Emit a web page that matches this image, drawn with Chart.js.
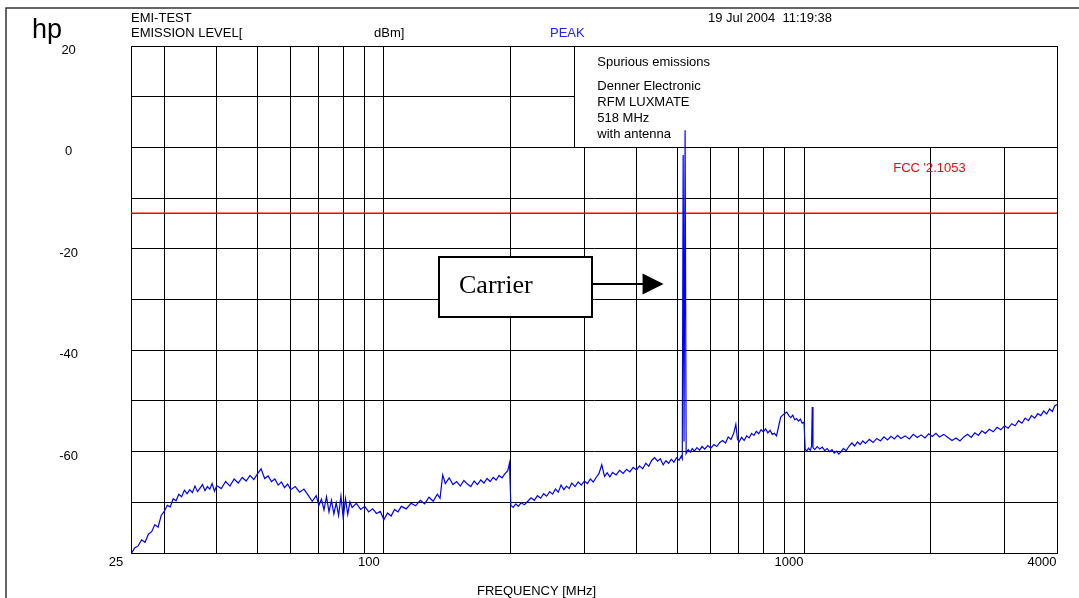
<!DOCTYPE html>
<html>
<head>
<meta charset="utf-8">
<title>EMI-TEST spurious emissions</title>
<script src="https://cdn.jsdelivr.net/npm/chart.js@4/dist/chart.umd.min.js"></script>
<style>
  html, body { margin: 0; padding: 0; background: #fff; }
  canvas { display: block; }
</style>
</head>
<body>
<canvas id="emiChart" width="1079" height="598"></canvas>
<script>
// peak sweep, 25 MHz .. 4 GHz
var freqMHz = [
  25, 25.5, 26, 26.5, 27, 27.5, 28, 28.5, 29, 29.5, 30, 30.5, 31, 31.5, 32, 32.5,
  33, 33.5, 34, 34.5, 35, 35.5, 36, 36.5, 37, 37.5, 38, 38.5, 39, 39.5, 40,
  41, 42, 43, 44, 45, 46, 47, 48, 49, 50, 51, 52, 53, 54, 55, 56, 57, 58, 59, 60,
  61.5, 63, 64.5, 66, 67.5, 69, 70, 71, 72, 73, 74, 75, 76, 77, 78, 79, 80, 81, 82, 83, 84,
  86, 88, 90, 92, 94, 96, 98, 100, 102, 104, 106, 108, 110, 113, 116, 119, 122, 125, 128, 131, 134, 136,
  138, 140, 143, 146, 149, 152, 155, 158, 161, 164, 167, 170, 173, 176, 179, 182, 185, 188, 191, 194, 197, 199,
  200.5, 203, 206, 209, 212, 216, 220, 224, 228, 232, 236, 240, 244, 248, 252, 256, 260, 264,
  268, 272, 276, 280, 285, 290, 295, 300, 305, 310, 315, 320, 325, 330, 335, 340, 345,
  350, 357, 364, 371, 378, 385, 392, 399, 406, 413, 420, 427, 434, 441, 448, 455, 462, 469,
  476, 483, 490, 497, 504, 510, 513,
  515.5, 518, 521,
  524, 530, 536, 542, 548, 556, 564, 572, 580, 590, 600, 610, 620, 630, 640, 650, 660, 670, 680, 688, 694, 700,
  710, 720, 730, 740, 750, 760, 770, 780, 790, 800, 810, 820, 830, 840, 850, 860, 870, 880, 890, 900,
  910, 920, 930, 940, 950, 960, 970, 980, 990, 1000,
  1006, 1015, 1025, 1035, 1042, 1046, 1050, 1060, 1075, 1090, 1105, 1120, 1135, 1150, 1165, 1180,
  1195, 1210, 1225, 1240, 1260, 1280, 1300, 1320, 1340, 1360, 1380, 1400,
  1430, 1460, 1490, 1520, 1550, 1580, 1610, 1640, 1670, 1700, 1740, 1780, 1820, 1860, 1900, 1940,
  1980, 2020, 2060, 2100, 2150, 2200,
  2250, 2300, 2350, 2400, 2450, 2500, 2550, 2600, 2650, 2700, 2760, 2820, 2880, 2940, 3000, 3060,
  3120, 3180, 3240, 3300, 3360, 3420, 3480, 3540, 3600, 3660, 3720, 3780, 3840, 3900, 3950, 4000
];

var levelDbm = [
  -80.2, -79.0, -78.6, -77.4, -77.9, -76.3, -75.8, -74.4, -74.9, -72.6, -71.8, -70.6, -70.9, -69.3, -69.7, -68.4,
  -68.9, -67.6, -68.3, -67.5, -68.1, -66.8, -67.9, -67.2, -66.5, -67.7, -66.9, -67.4, -66.3, -67.8, -66.7,
  -67.3, -65.9, -66.8, -65.4, -66.2, -65.1, -65.8, -64.7, -65.5, -64.4, -63.4, -65.3, -64.8, -65.9, -65.4, -66.6, -66.0, -67.1, -66.4, -67.5,
  -66.9, -68.0, -67.4, -68.6, -69.8, -68.7, -70.6, -69.4, -71.5, -68.9, -71.9, -69.6, -72.3, -70.1, -72.6, -68.8, -73.1, -69.3, -72.4, -69.9, -71.0,
  -70.2, -71.4, -70.8, -71.9, -71.3, -72.2, -71.8, -73.4, -72.1, -72.7, -71.4, -71.9, -70.8, -71.3, -70.2, -70.7, -69.6, -70.3, -69.0, -69.8, -68.4, -69.2,
  -64.6, -66.3, -65.2, -66.5, -65.9, -66.8, -65.7, -66.4, -66.9, -65.8, -66.5, -65.6, -66.2, -65.3, -65.9, -65.1, -65.6, -64.7, -65.2, -64.4, -63.8, -62.3,
  -70.6, -71.0, -70.3, -70.8, -70.1, -70.5, -69.8, -69.1, -69.6, -68.7, -69.2, -68.3, -68.8, -67.9, -68.4, -67.4, -68.0, -66.6,
  -67.5, -66.8, -67.3, -66.2, -66.9, -66.0, -66.6, -65.8, -66.3, -65.4, -66.0, -65.1, -64.3, -62.6, -64.9, -64.2, -65.0,
  -64.1, -64.6, -63.7, -64.3, -63.5, -64.0, -63.1, -63.6, -62.8, -63.4, -62.3, -62.9, -61.7, -61.2, -61.9, -61.4, -62.6, -61.8,
  -62.3, -61.5, -62.1, -61.2, -61.7, -60.9, -61.4,
  -1.5, -58.0, 3.4,
  -60.4, -59.6, -60.1, -59.4, -59.9, -59.2, -59.7, -59.0, -59.5, -58.8, -59.3, -58.6, -59.0, -58.2, -57.8, -58.3, -57.1, -57.6, -56.4, -54.6, -57.5, -58.1,
  -57.2, -57.8, -56.9, -57.3, -56.4, -56.8, -56.0, -56.5, -55.7, -56.1, -55.5, -56.3, -55.8, -56.6, -56.4, -56.9, -55.0, -53.2, -52.8, -52.5,
  -52.2, -52.9, -53.3, -52.8, -53.7, -53.5, -54.0, -53.6, -54.4, -54.2,
  -59.5, -59.9, -59.3, -59.8, -58.9, -51.2, -59.2, -59.6, -59.0, -59.5, -59.1, -59.8, -59.4, -60.0, -59.6, -60.3,
  -59.9, -60.5, -60.0, -59.4, -59.8, -58.9, -58.3, -58.9, -58.1, -58.6, -57.9, -58.4,
  -57.6, -58.2, -57.4, -57.9, -57.1, -57.7, -57.0, -57.5, -56.8, -57.4, -56.9, -57.5, -56.6, -57.2, -56.7, -57.3,
  -56.5, -57.0, -56.4, -57.1, -56.6, -57.2,
  -57.8, -57.3, -57.9, -57.1, -56.6, -57.2, -56.3, -56.8, -55.9, -56.4, -55.6, -56.1, -55.2, -55.7, -54.9, -55.4,
  -54.5, -54.9, -53.9, -54.4, -53.4, -53.9, -52.9, -53.4, -52.5, -52.9, -52.0, -52.6, -51.6, -52.1, -51.0, -50.7
];

// FCC limit line
var limitFreq = [25, 4000];
var limitDbm = [-13, -13];

// grid positions and the ones that get a label
var gridFreqs = [25, 30, 40, 50, 60, 70, 80, 90, 100, 200, 300, 400, 500, 600, 700, 800, 900, 1000, 2000, 3000, 4000];
var freqLabels = [25, 100, 1000, 4000];
var levelLabels = [20, 0, -20, -40, -60];

var infoLines = ['Spurious emissions', 'Denner Electronic', 'RFM LUXMATE', '518 MHz', 'with antenna'];
var infoLineOffsets = [20, 44, 60, 76, 92];

var sansFont = '"Liberation Sans", Arial, sans-serif';

// annotation anchors in axis units (MHz / dBm)
var infoBox = { from: 284, to: 4000, top: 20, bottom: 0, textAt: 322 };
var carrierNote = { from: 135.5, to: 312, top: -21.6, bottom: -33.5, arrowTo: 463, arrowAt: -27.0, text: 'Carrier' };
var fccNote = { at: 1630, level: -4.8, text: "FCC '2.1053" };

var emiDecor = {
  id: 'emiDecor',
  beforeDatasetsDraw: function(chart) {
    var c = chart.ctx, xs = chart.scales.x, ys = chart.scales.y;
    var l = Math.round(xs.getPixelForValue(infoBox.from)), r = Math.round(xs.getPixelForValue(infoBox.to));
    var t = Math.round(ys.getPixelForValue(infoBox.top)), b = Math.round(ys.getPixelForValue(infoBox.bottom));
    c.save();
    c.fillStyle = '#fff';
    c.fillRect(l, t, r - l, b - t);
    c.strokeStyle = '#000';
    c.lineWidth = 1;
    c.strokeRect(l + 0.5, t + 0.5, r - l, b - t);
    c.fillStyle = '#000';
    c.font = '13px ' + sansFont;
    c.textBaseline = 'alphabetic';
    var tx = xs.getPixelForValue(infoBox.textAt);
    infoLines.forEach(function(line, i) {
      c.fillText(line, tx, t + infoLineOffsets[i]);
    });

    // limit label
    c.fillStyle = '#ff0000';
    c.fillText(fccNote.text, xs.getPixelForValue(fccNote.at), ys.getPixelForValue(fccNote.level));
    c.restore();
  },
  afterDatasetsDraw: function(chart) {
    var c = chart.ctx, xs = chart.scales.x, ys = chart.scales.y;
    var l = Math.round(xs.getPixelForValue(carrierNote.from)), r = Math.round(xs.getPixelForValue(carrierNote.to));
    var t = Math.round(ys.getPixelForValue(carrierNote.top)), b = Math.round(ys.getPixelForValue(carrierNote.bottom));
    var ay = Math.round(ys.getPixelForValue(carrierNote.arrowAt));
    var tip = xs.getPixelForValue(carrierNote.arrowTo);
    c.save();
    c.fillStyle = '#fff';
    c.fillRect(l, t, r - l, b - t);
    c.strokeStyle = '#000';
    c.lineWidth = 2;
    c.strokeRect(l, t, r - l, b - t);
    c.fillStyle = '#000';
    c.font = '26px "Liberation Serif", "Times New Roman", serif';
    c.textBaseline = 'alphabetic';
    c.fillText(carrierNote.text, l + 20, ay + 9);

    // arrow to the carrier
    c.beginPath();
    c.moveTo(r, ay);
    c.lineTo(tip - 18, ay);
    c.stroke();
    c.beginPath();
    c.moveTo(tip, ay);
    c.lineTo(tip - 21, ay - 10.5);
    c.lineTo(tip - 21, ay + 10.5);
    c.closePath();
    c.fill();
    c.restore();
  },
  afterDraw: function(chart) {
    var c = chart.ctx;
    c.save();
    // page frame
    c.strokeStyle = '#333';
    c.lineWidth = 1.5;
    c.beginPath();
    c.moveTo(6, 598);
    c.lineTo(6, 8);
    c.lineTo(1079, 8);
    c.stroke();

    c.fillStyle = '#000';
    c.textBaseline = 'alphabetic';
    c.font = '27px ' + sansFont;
    c.fillText('hp', 32, 38);
    c.font = '13px ' + sansFont;
    c.fillText('EMI-TEST', 131, 21.5);
    c.fillText('EMISSION LEVEL[', 131, 36.5);
    c.fillText('dBm]', 374, 36.5);
    c.fillText('19 Jul 2004  11:19:38', 708, 21.5);
    c.fillText('FREQUENCY [MHz]', 477, 595);
    c.fillStyle = '#2222ff';
    c.fillText('PEAK', 550, 36.5);
    c.restore();
  }
};

// keep the plot frame where the layout puts it, no extra room for edge labels
function noEdgePadding(scale) {
  scale.paddingTop = 0;
  scale.paddingBottom = 0;
  scale.paddingLeft = 0;
  scale.paddingRight = 0;
}

Chart.defaults.font.family = sansFont;
Chart.defaults.font.size = 13;
Chart.defaults.color = '#000';

var ctx = document.getElementById('emiChart');
var emiChart = new Chart(ctx, {
  type: 'line',
  data: {
    datasets: [
      {
        label: 'PEAK',
        data: freqMHz.map(function(f, i) { return { x: f, y: levelDbm[i] }; }),
        borderColor: '#0000ff',
        borderWidth: 1.2,
        pointRadius: 0,
        tension: 0,
        fill: false
      }, {
        label: "FCC '2.1053",
        data: limitFreq.map(function(f, i) { return { x: f, y: limitDbm[i] }; }),
        borderColor: '#ff0000',
        borderWidth: 1.5,
        pointRadius: 0,
        fill: false
      }
    ]
  },
  options: {
    responsive: false,
    animation: false,
    devicePixelRatio: 1,
    layout: { padding: { left: 6, top: 46, right: 22, bottom: 0 } },
    plugins: { legend: { display: false }, tooltip: { enabled: false } },
    scales: {
      x: {
        type: 'logarithmic',
        min: 25,
        max: 4000,
        afterBuildTicks: function(scale) {
          scale.ticks = gridFreqs.map(function(v) { return { value: v }; });
        },
        afterFit: function(scale) {
          scale.height = 45;
          noEdgePadding(scale);
        },
        grid: { color: '#000', lineWidth: 1, drawTicks: false },
        border: { color: '#000', width: 1 },
        ticks: {
          autoSkip: false,
          maxRotation: 0,
          padding: 2,
          labelOffset: -15,
          callback: function(v) { return freqLabels.indexOf(v) >= 0 ? String(v) : ''; }
        }
      },
      y: {
        min: -80,
        max: 20,
        afterFit: function(scale) {
          scale.width = 125;
          noEdgePadding(scale);
        },
        grid: { color: '#000', lineWidth: 1, drawTicks: false },
        border: { color: '#000', width: 1 },
        ticks: {
          stepSize: 10,
          padding: 53,
          crossAlign: 'center',
          labelOffset: 4.5,
          callback: function(v) { return levelLabels.indexOf(v) >= 0 ? String(v) : ''; }
        }
      }
    }
  },
  plugins: [emiDecor]
});
</script>
</body>
</html>
